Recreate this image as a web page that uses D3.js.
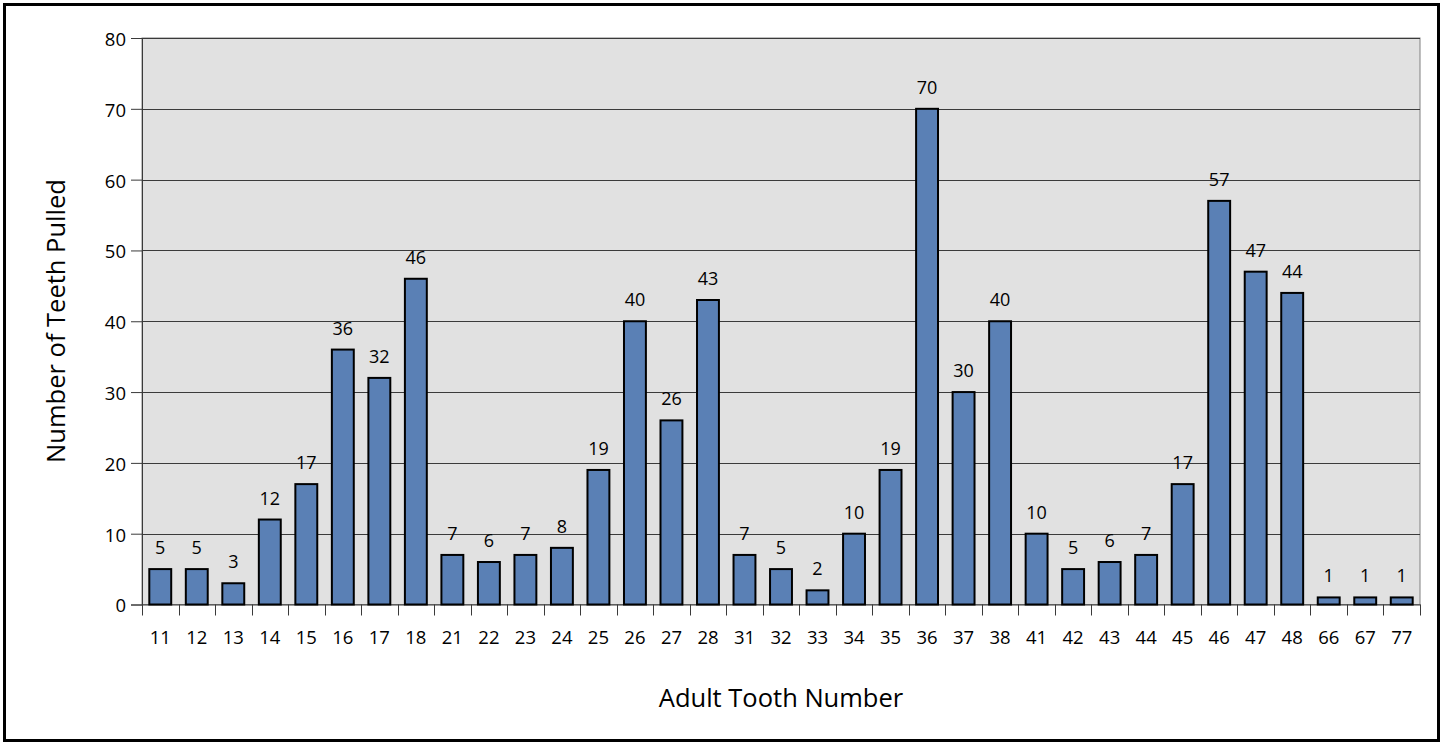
<!DOCTYPE html>
<html>
<head>
<meta charset="utf-8">
<script src="https://cdn.jsdelivr.net/npm/d3@7"></script>
<style>
  body { margin: 0; background: #fff; }
  text { font-family: "Open Sans", "Noto Sans", sans-serif; fill: #000; }
</style>
</head>
<body>
<script>
// teeth pulled per adult tooth number
var teeth = ["11","12","13","14","15","16","17","18",
             "21","22","23","24","25","26","27","28",
             "31","32","33","34","35","36","37","38",
             "41","42","43","44","45","46","47","48",
             "66","67","77"];
var pulled = [5,5,3,12,17,36,32,46,
              7,6,7,8,19,40,26,43,
              7,5,2,10,19,70,30,40,
              10,5,6,7,17,57,47,44,
              1,1,1];
var yTicks = [0,10,20,30,40,50,60,70,80];

var W = 1444, H = 745;
// plot box (window.top is read-only, so own names)
var pLeft = 142, pRight = 1420, pTop = 38, pBottom = 604.5;

var svg = d3.select("body").append("svg")
  .attr("width", W)
  .attr("height", H);

// outer frame
svg.append("rect")
  .attr("x", 4.5).attr("y", 4.5)
  .attr("width", 1434).attr("height", 736)
  .attr("fill", "#fff")
  .attr("stroke", "#000")
  .attr("stroke-width", 3);

var x = d3.scaleBand().domain(teeth).range([pLeft, pRight]).paddingInner(0.4).paddingOuter(0.2);
var xTick = d3.scaleBand().domain(teeth).range([pLeft, pRight]);
var y = d3.scaleLinear().domain([0, 80]).range([pBottom, pTop]);

// plot background
svg.append("rect")
  .attr("x", pLeft).attr("y", pTop)
  .attr("width", pRight - pLeft).attr("height", pBottom - pTop)
  .attr("fill", "#e1e1e1")
  .attr("stroke", "#808080")
  .attr("stroke-width", 1);

// gridlines
svg.append("g").selectAll("line")
  .data(yTicks.slice(1))
  .enter().append("line")
    .attr("x1", pLeft).attr("x2", pRight)
    .attr("y1", function(d){return Math.round(y(d)) + 0.5})
    .attr("y2", function(d){return Math.round(y(d)) + 0.5})
    .attr("stroke", "#3a3a3a")
    .attr("stroke-width", 1);

// y axis
var yAxis = svg.append("g")
  .attr("transform", "translate(" + pLeft + ",0)")
  .call(d3.axisLeft(y).tickValues(yTicks).tickSize(11).tickPadding(5));
yAxis.select(".domain").attr("stroke", "#3a3a3a");
yAxis.selectAll(".tick line").attr("stroke", "#3a3a3a");
yAxis.selectAll("text").style("font-size", "18.5px").attr("dy", "0.4em");

// x axis, ticks at band edges
var xAxis = svg.append("g")
  .attr("transform", "translate(0," + pBottom + ")")
  .call(d3.axisBottom(xTick).tickSize(0).tickPadding(26));
xAxis.select(".domain").attr("stroke", "#3a3a3a");
xAxis.selectAll("text").style("font-size", "18.5px");
svg.append("g").selectAll("line")
  .data(teeth.concat(["end"]))
  .enter().append("line")
    .attr("x1", function(d, i){return Math.round(pLeft + i * xTick.bandwidth()) + 0.5})
    .attr("x2", function(d, i){return Math.round(pLeft + i * xTick.bandwidth()) + 0.5})
    .attr("y1", pBottom).attr("y2", pBottom + 11)
    .attr("stroke", "#3a3a3a");

// bars
svg.append("g").selectAll("rect")
  .data(pulled)
  .enter().append("rect")
    .attr("x", function(d, i){return x(teeth[i])})
    .attr("y", function(d){return y(d)})
    .attr("width", x.bandwidth())
    .attr("height", function(d){return pBottom - y(d)})
    .attr("fill", "#5a80b5")
    .attr("stroke", "#000")
    .attr("stroke-width", 2);

// value labels
svg.append("g").selectAll("text")
  .data(pulled)
  .enter().append("text")
    .attr("x", function(d, i){return x(teeth[i]) + x.bandwidth() / 2})
    .attr("y", function(d){return y(d) - 15})
    .attr("text-anchor", "middle")
    .style("font-size", "18px")
    .text(function(d){return d});

// axis titles
svg.append("text")
  .attr("x", 781).attr("y", 707)
  .attr("text-anchor", "middle")
  .style("font-size", "25.5px")
  .text("Adult Tooth Number");

svg.append("text")
  .attr("transform", "translate(65,321) rotate(-90)")
  .attr("text-anchor", "middle")
  .style("font-size", "25.5px")
  .text("Number of Teeth Pulled");
</script>
</body>
</html>
